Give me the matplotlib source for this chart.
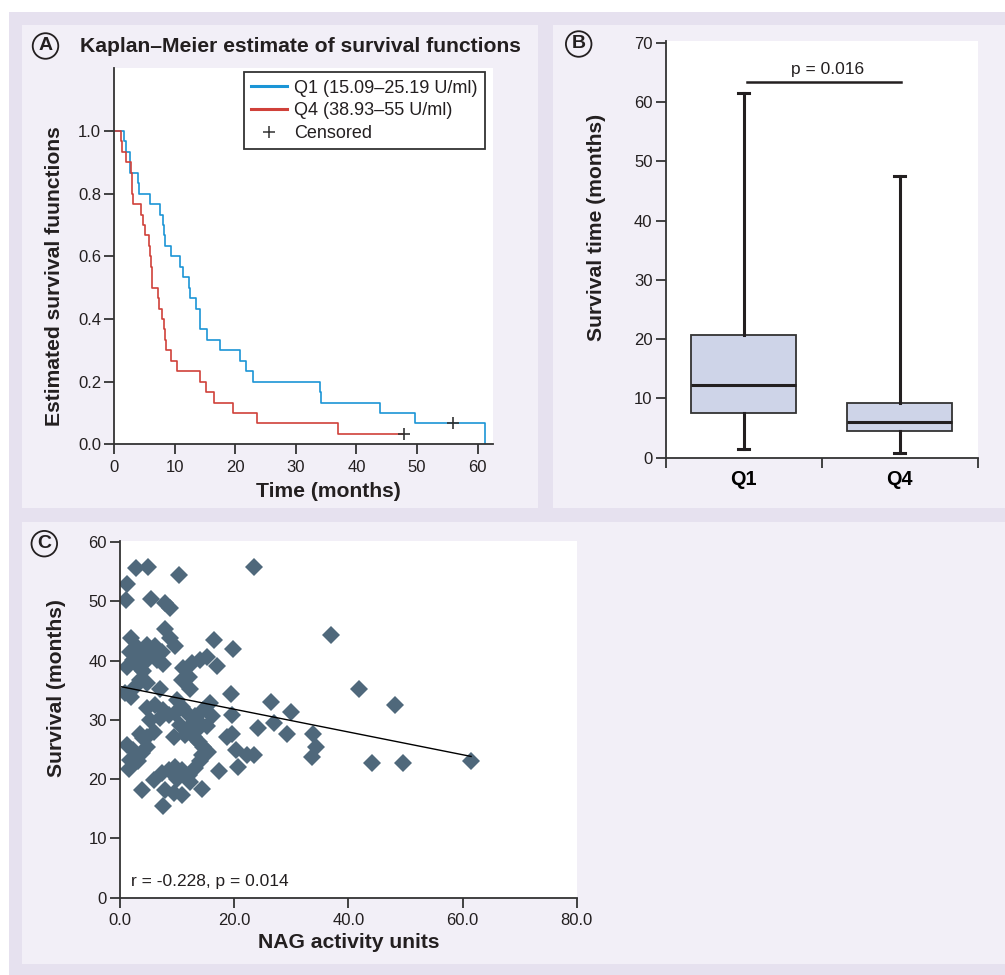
import numpy as np
import matplotlib
matplotlib.use("Agg")
from matplotlib import pyplot as plt
from matplotlib.patches import Rectangle
from matplotlib.lines import Line2D

plt.rcParams['font.family'] = ['Liberation Sans', 'DejaVu Sans']

W, H = 1005, 975
INK = '#231f20'
AXC = '#333333'
BLUE = '#1b95d6'
RED = '#d0413a'

# ---- panel A: Kaplan-Meier steps ----
q1_time = [0, 1.65, 1.87, 2.64, 3.9, 4.13, 5.9, 7.6, 8.04, 8.2, 8.4, 9.37, 10.9, 11.3,
           12.4, 12.56, 13.5, 14.16, 15.3, 17.5, 20.7, 21.8, 22.9, 33.9, 34.1, 43.9, 49.6, 61.2]
q1_surv = [1.0, 0.967, 0.933, 0.867, 0.833, 0.8, 0.767, 0.733, 0.7, 0.667, 0.633, 0.6, 0.567, 0.533,
           0.5, 0.467, 0.433, 0.367, 0.333, 0.3, 0.267, 0.233, 0.2, 0.167, 0.133, 0.1, 0.067, 0.0]
q4_time = [0, 1.1, 1.32, 1.98, 2.8, 2.9, 3.0, 3.1, 4.46, 4.74, 5.0, 5.7, 5.9, 6.06, 6.2, 7.16,
           7.44, 7.93, 8.15, 8.3, 8.54, 9.37, 10.36, 14.1, 15.15, 16.4, 19.56, 23.5, 36.9, 47.8]
q4_surv = [1.0, 0.967, 0.933, 0.9, 0.867, 0.833, 0.8, 0.767, 0.733, 0.7, 0.667, 0.633, 0.6, 0.567,
           0.5, 0.467, 0.433, 0.4, 0.367, 0.333, 0.3, 0.267, 0.233, 0.2, 0.167, 0.133, 0.1, 0.067,
           0.033, 0.033]
censor_time = [55.9, 47.8]
censor_surv = [0.067, 0.033]
legend_labels = ['Q1 (15.09–25.19 U/ml)', 'Q4 (38.93–55 U/ml)', 'Censored']

# ---- panel B: box plot summary ----
box_labels = ['Q1', 'Q4']
box_med = [12.3, 6.07]
box_q1 = [7.47, 4.55]
box_q3 = [20.67, 9.27]
box_lo = [1.52, 0.79]
box_hi = [61.5, 47.6]
p_text_b = 'p = 0.016'
p_line_y = 63.4

# ---- panel C: NAG activity vs survival ----
nag = [2.8, 4.9, 10.4, 23.4, 1.2, 1.0, 5.4, 7.9, 8.8, 2.0, 7.9, 8.8, 9.7, 16.4, 19.8, 37.0,
       41.8, 48.1, 44.2, 49.6, 61.5, 33.8, 34.3, 33.7, 30.0, 29.2, 26.9, 26.4, 24.2, 23.4,
       22.2, 20.6, 20.3, 19.6, 18.8, 19.7, 19.5, 17.4,
       1.8, 3.2, 4.7, 6.1, 7.3, 5.3, 3.8, 2.3, 1.2, 2.9, 4.4, 6.4, 7.6, 4.1, 3.5, 4.7, 2.6, 0.9,
       2.0, 7.0,
       11.1, 12.6, 14.0, 15.2, 17.0, 12.0, 10.8, 12.3,
       4.7, 6.1, 7.6, 5.3, 7.0, 8.5, 9.9, 10.8, 9.7, 11.7, 13.2, 14.6, 15.8, 16.1, 14.0, 12.3,
       10.5, 9.4, 11.4, 13.5, 15.2, 4.7, 5.9, 3.5,
       1.2, 2.3, 3.8, 4.7, 1.8, 3.2, 1.5, 4.1,
       12.9, 13.8, 14.6, 15.5, 14.3,
       5.9, 7.3, 8.5, 9.7, 10.8, 12.0, 13.2, 14.0, 10.0, 12.3, 7.9, 9.4, 10.8, 7.6, 3.8, 14.3]
surv = [55.6, 55.8, 54.5, 55.8, 52.9, 50.3, 50.4, 49.7, 48.9, 43.9, 45.3, 43.8, 42.5, 43.5, 42.0, 44.3,
        35.3, 32.6, 22.7, 22.7, 23.1, 27.7, 25.5, 23.8, 31.3, 27.6, 29.4, 33.1, 28.7, 24.1,
        24.1, 22.1, 24.9, 27.7, 27.1, 30.8, 34.3, 21.3,
        41.5, 42.1, 42.7, 42.4, 41.5, 41.0, 40.7, 40.1, 39.0, 39.3, 39.8, 40.1, 39.4, 38.2, 36.7, 36.2,
        35.6, 34.5, 33.9, 35.3,
        38.7, 39.6, 40.1, 40.7, 39.1, 37.3, 36.7, 35.2,
        32.0, 32.5, 31.7, 30.0, 30.3, 30.8, 33.4, 32.2, 31.1, 31.1, 30.6, 31.7, 32.8, 30.6, 29.4, 28.9,
        29.2, 27.2, 27.5, 28.3, 28.9, 27.2, 28.0, 27.7,
        25.8, 24.9, 24.4, 25.5, 23.2, 23.0, 21.8, 26.9,
        27.2, 26.3, 25.5, 24.6, 24.1,
        19.9, 21.0, 21.6, 22.1, 21.6, 20.7, 21.9, 23.0, 20.1, 19.6, 18.2, 17.6, 17.3, 15.4, 18.2, 18.3]
fit_intercept = 35.65
fit_slope = -0.192
fit_range = [0.3, 61.5]
r_text = 'r = -0.228, p = 0.014'


def ax_rect(l, t, r, b):
    return [l / W, 1 - b / H, (r - l) / W, (b - t) / H]


def fpos(x, y):
    return x / W, 1 - y / H


def bg(x, y, w, h, color):
    fig.add_artist(Rectangle((x / W, 1 - (y + h) / H), w / W, h / H,
                             transform=fig.transFigure, color=color, zorder=-10, lw=0))


def style(ax):
    for s in ['top', 'right']:
        ax.spines[s].set_visible(False)
    for s in ['left', 'bottom']:
        ax.spines[s].set_linewidth(1.3)
        ax.spines[s].set_color(AXC)
    ax.tick_params(direction='out', length=7, width=1.3, color=AXC,
                   labelsize=12, labelcolor=INK, pad=2.5)
    ax.tick_params(axis='x', pad=4)


def letter(x, y, s):
    fig.text(*fpos(x, y), s, ha='center', va='center', fontsize=14, fontweight='bold',
             color=INK, bbox=dict(boxstyle='circle,pad=0.22', fc='none', ec=INK, lw=1.3))


fig = plt.figure(figsize=(W / 100, H / 100), dpi=100)
fig.patch.set_facecolor('white')

# backgrounds
bg(9, 12, W - 9, H - 12, '#e6e1ef')
bg(22, 25, 516, 483, '#f2eff7')
bg(553, 25, W - 553, 483, '#f2eff7')
bg(22, 522, W - 22, 442, '#f2eff7')

# ---- A ----
axA = fig.add_axes(ax_rect(114.3, 68.3, 492.7, 444.3))
axA.step(q1_time, q1_surv, where='post', color=BLUE, lw=1.2)
axA.step(q4_time, q4_surv, where='post', color=RED, lw=1.2)
axA.plot(censor_time, censor_surv, '+', color=AXC, ms=9, mew=1.2)
axA.set_xlim(0, 62.5)
axA.set_ylim(0, 1.2)
axA.set_xticks(range(0, 61, 10))
axA.set_yticks([0, 0.2, 0.4, 0.6, 0.8, 1.0], ['0.0', '0.2', '0.4', '0.6', '0.8', '1.0'])
style(axA)
handles = [Line2D([], [], color=BLUE, lw=2.2), Line2D([], [], color=RED, lw=2.2),
           Line2D([], [], marker='+', ls='none', color=AXC, ms=9, mew=1.1)]
leg = axA.legend(handles, legend_labels, loc='upper left', bbox_to_anchor=(0.342, 0.989),
                 borderaxespad=0, fontsize=13, handlelength=2.0, handletextpad=0.4,
                 labelspacing=0.32, borderpad=0.4, fancybox=False, framealpha=1)
leg.get_frame().set_edgecolor(AXC)
leg.get_frame().set_linewidth(1.3)
for t in leg.get_texts():
    t.set_color(INK)

letter(45.5, 46, 'A')
fig.text(*fpos(80, 46.7), 'Kaplan–Meier estimate of survival functions', ha='left', va='center',
         fontsize=15.2, fontweight='bold', color=INK)
fig.text(*fpos(55, 276), 'Estimated survival fuunctions', rotation=90, ha='center', va='center',
         fontsize=15.2, fontweight='bold', color=INK)
fig.text(*fpos(328.8, 492), 'Time (months)', ha='center', va='center',
         fontsize=15.2, fontweight='bold', color=INK)

# ---- B ----
axB = fig.add_axes(ax_rect(665.7, 41, 977.7, 457.7))
stats = [dict(med=m, q1=a, q3=b, whislo=lo, whishi=hi, fliers=[], label=lab)
         for m, a, b, lo, hi, lab in zip(box_med, box_q1, box_q3, box_lo, box_hi, box_labels)]
axB.bxp(stats, positions=[0.5, 1.5], widths=0.67, capwidths=0.068, patch_artist=True,
        showfliers=False, manage_ticks=False,
        boxprops=dict(facecolor='#ced4e8', edgecolor=AXC, linewidth=1.3),
        medianprops=dict(color=INK, linewidth=2.2),
        whiskerprops=dict(color=INK, linewidth=2.2),
        capprops=dict(color=INK, linewidth=2.2))
axB.plot([0.523, 1.506], [p_line_y, p_line_y], color=INK, lw=1.8)
axB.text(1.04, 65.5, p_text_b, ha='center', va='center', fontsize=12.5, color=INK)
axB.set_xlim(0, 2)
axB.set_ylim(0, 70.3)
axB.set_yticks(range(0, 71, 10))
axB.set_xticks([0, 1, 2], [])
style(axB)
axB.set_xticks([0.5, 1.5], box_labels, minor=True, fontweight='bold')
axB.tick_params(axis='x', which='minor', length=0, labelsize=14.3, pad=9)
letter(578.7, 44, 'B')
fig.text(*fpos(596.5, 227.6), 'Survival time (months)', rotation=90, ha='center', va='center',
         fontsize=15.2, fontweight='bold', color=INK)

# ---- C ----
axC = fig.add_axes(ax_rect(120, 541, 576.7, 897.7))
axC.plot(nag, surv, 'D', ms=9, color='#4f687b', mew=0, ls='none')
fx = np.array(fit_range)
axC.plot(fx, fit_intercept + fit_slope * fx, color='black', lw=1)
axC.text(1.93, 2.7, r_text, ha='left', va='center', fontsize=12.5, color=INK)
axC.set_xlim(0, 80)
axC.set_ylim(0, 60.2)
axC.set_xticks(range(0, 81, 20), ['%.1f' % v for v in range(0, 81, 20)])
axC.set_yticks(range(0, 61, 10))
style(axC)
letter(44.3, 543.7, 'C')
fig.text(*fpos(57, 688), 'Survival (months)', rotation=90, ha='center', va='center',
         fontsize=15.2, fontweight='bold', color=INK)
fig.text(*fpos(348.3, 943), 'NAG activity units', ha='center', va='center',
         fontsize=15.2, fontweight='bold', color=INK)

fig.savefig('out.png', dpi=100)
